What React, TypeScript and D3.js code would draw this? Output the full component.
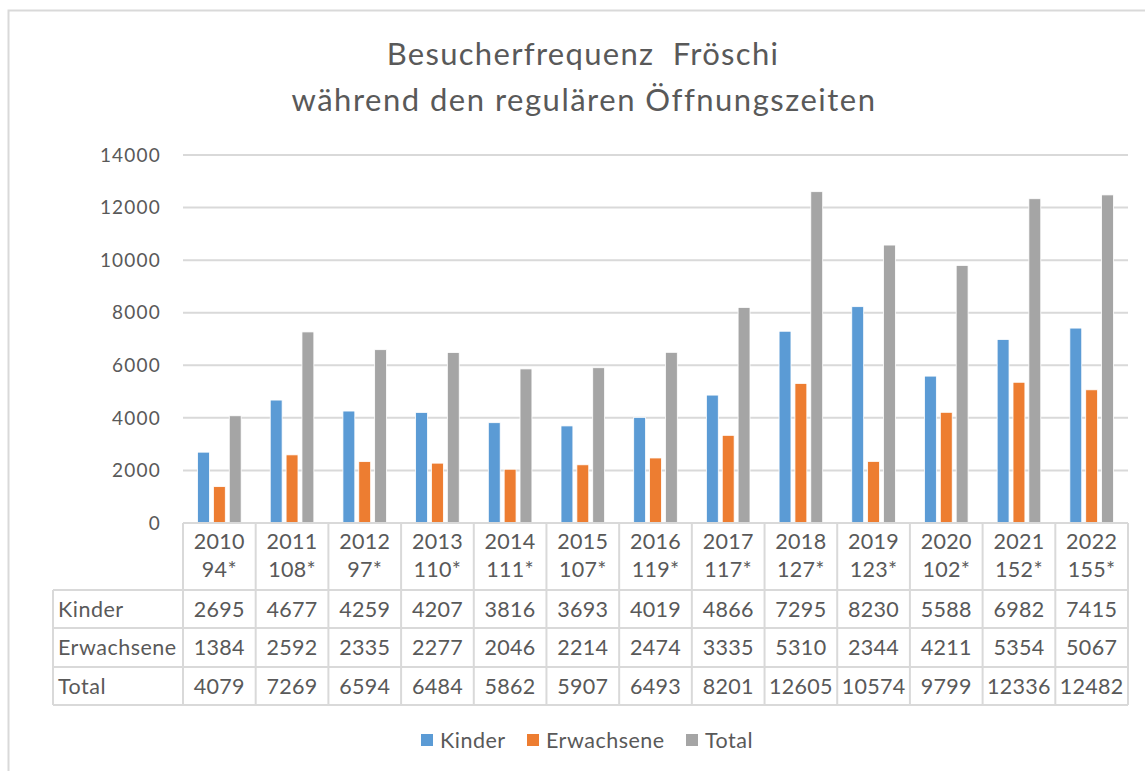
import React, { useRef, useEffect } from 'react';
import * as d3 from 'd3';

const years = ['2010', '2011', '2012', '2013', '2014', '2015', '2016', '2017', '2018', '2019', '2020', '2021', '2022'];
const days = ['94*', '108*', '97*', '110*', '111*', '107*', '119*', '117*', '127*', '123*', '102*', '152*', '155*'];
const kinder = [2695, 4677, 4259, 4207, 3816, 3693, 4019, 4866, 7295, 8230, 5588, 6982, 7415];
const erwachsene = [1384, 2592, 2335, 2277, 2046, 2214, 2474, 3335, 5310, 2344, 4211, 5354, 5067];
const total = [4079, 7269, 6594, 6484, 5862, 5907, 6493, 8201, 12605, 10574, 9799, 12336, 12482];
const seriesNames = ['Kinder', 'Erwachsene', 'Total'];
const seriesColors = ['#5b9bd5', '#ed7d31', '#a5a5a5'];
const yTicks = [0, 2000, 4000, 6000, 8000, 10000, 12000, 14000];

const FONT = 'Lato, Carlito, Calibri, sans-serif';
const TEXT = '#595959';
const LINE = '#d9d9d9';

function App() {
  const svgRef = useRef(null);

  useEffect(() => {
    const svg = d3.select(svgRef.current);
    svg.selectAll('*').remove();

    const width = 1145;
    const height = 771;
    const plot = { left: 183, right: 1128, top: 155, bottom: 523 };
    const labelLeft = 53;
    const rowEdges = [523, 590, 628, 667, 705];

    const values = [kinder, erwachsene, total];

    svg.append('rect').attr('width', width).attr('height', height).attr('fill', '#fff');

    // outer chart frame
    svg.append('path')
      .attr('d', `M8.5,${height} V10.5 H${width}`)
      .attr('fill', 'none')
      .attr('stroke', LINE)
      .attr('stroke-width', 2);

    // title
    const title = svg.append('text')
      .attr('text-anchor', 'middle')
      .attr('font-family', FONT)
      .attr('font-size', 31)
      .attr('fill', TEXT);
    title.append('tspan').attr('x', 583).attr('y', 65).attr('letter-spacing', 1.3)
      .attr('xml:space', 'preserve').text('Besucherfrequenz  Fröschi');
    title.append('tspan').attr('x', 584).attr('y', 111).attr('letter-spacing', 1.5)
      .text('während den regulären Öffnungszeiten');

    const x0 = d3.scaleBand().domain(years).range([plot.left, plot.right]);
    const bw = x0.bandwidth();
    const x1 = d3.scaleBand().domain(seriesNames).range([bw * 0.2, bw * 0.8]).paddingInner(0.25);

    const y = d3.scaleLinear().domain([0, 14000]).range([plot.bottom, plot.top]);

    // gridlines
    svg.append('g')
      .selectAll('line')
      .data(yTicks.filter(d => d > 0))
      .enter().append('line')
      .attr('x1', plot.left)
      .attr('x2', plot.right)
      .attr('y1', d => y(d))
      .attr('y2', d => y(d))
      .attr('stroke', LINE)
      .attr('stroke-width', 2);

    // y tick labels
    svg.append('g')
      .attr('font-family', FONT)
      .attr('font-size', 19)
      .attr('letter-spacing', 1.2)
      .attr('fill', TEXT)
      .attr('text-anchor', 'end')
      .selectAll('text')
      .data(yTicks)
      .enter().append('text')
      .attr('x', 161)
      .attr('y', d => y(d))
      .attr('dy', '0.35em')
      .text(d => d);

    // bars
    const groups = svg.append('g')
      .selectAll('g')
      .data(years)
      .enter().append('g')
      .attr('transform', d => `translate(${x0(d)},0)`);

    groups.selectAll('rect')
      .data((d, i) => seriesNames.map((s, j) => ({ s, j, v: values[j][i] })))
      .enter().append('rect')
      .attr('x', d => x1(d.s))
      .attr('width', x1.bandwidth())
      .attr('y', d => y(d.v))
      .attr('height', d => y(0) - y(d.v))
      .attr('fill', d => seriesColors[d.j])
      .attr('stroke', '#fff')
      .attr('stroke-width', 0.8);

    // data table grid
    const grid = svg.append('g')
      .attr('stroke', LINE)
      .attr('stroke-width', 2)
      .attr('fill', 'none');

    rowEdges.forEach((ry, i) => {
      grid.append('line')
        .attr('x1', i === 0 ? plot.left : labelLeft)
        .attr('x2', plot.right)
        .attr('y1', ry)
        .attr('y2', ry);
    });
    grid.append('line')
      .attr('x1', labelLeft).attr('x2', labelLeft)
      .attr('y1', rowEdges[1]).attr('y2', rowEdges[4]);
    years.concat(['end']).forEach(yr => {
      const vx = yr === 'end' ? plot.right : x0(yr);
      grid.append('line')
        .attr('x1', vx).attr('x2', vx)
        .attr('y1', rowEdges[0]).attr('y2', rowEdges[4]);
    });

    const table = svg.append('g')
      .attr('font-family', FONT)
      .attr('font-size', 21.5)
      .attr('letter-spacing', 0.3)
      .attr('fill', TEXT);

    // header: year + days
    years.forEach((yr, i) => {
      const cx = x0(yr) + bw / 2;
      table.append('text').attr('x', cx).attr('y', 549).attr('text-anchor', 'middle').text(yr);
      table.append('text').attr('x', cx).attr('y', 577).attr('text-anchor', 'middle').text(days[i]);
    });

    // rows
    seriesNames.forEach((name, j) => {
      const cy = (rowEdges[j + 1] + rowEdges[j + 2]) / 2;
      table.append('text')
        .attr('x', 58)
        .attr('y', cy)
        .attr('dy', '0.35em')
        .attr('letter-spacing', 0.5)
        .text(name);
      values[j].forEach((v, i) => {
        table.append('text')
          .attr('x', x0(years[i]) + bw / 2)
          .attr('y', cy)
          .attr('dy', '0.35em')
          .attr('text-anchor', 'middle')
          .text(v);
      });
    });

    // legend
    const legendX = [421, 527, 686];
    const legend = svg.append('g')
      .attr('font-family', FONT)
      .attr('font-size', 21.5)
      .attr('letter-spacing', 0.5)
      .attr('fill', TEXT)
      .selectAll('g')
      .data(seriesNames)
      .enter().append('g')
      .attr('transform', (d, i) => `translate(${legendX[i]},740)`);

    legend.append('rect')
      .attr('x', 0)
      .attr('y', -6)
      .attr('width', 12)
      .attr('height', 12)
      .attr('fill', (d, i) => seriesColors[i]);

    legend.append('text')
      .attr('x', 19)
      .attr('y', 0)
      .attr('dy', '0.35em')
      .text(d => d);
  }, []);

  return (
    <svg
      ref={svgRef}
      width={1145}
      height={771}
      style={{ position: 'absolute', left: 0, top: 0 }}
    />
  );
}

export default App;
